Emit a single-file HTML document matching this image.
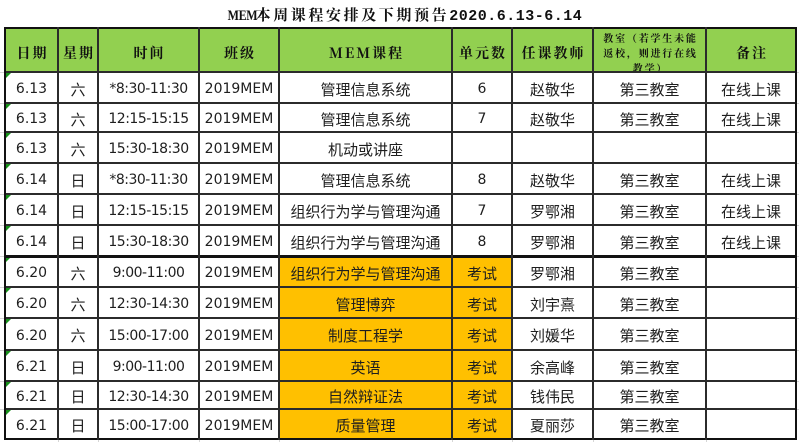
<!DOCTYPE html>
<html><head><meta charset="utf-8">
<style>
*{margin:0;padding:0;box-sizing:border-box}
html,body{width:799px;height:442px;background:#fff;overflow:hidden}
#wrap{position:relative;width:799px;height:442px}
.title{position:absolute;left:0;top:5px;width:810px;text-align:center;font-weight:bold;color:#111;white-space:nowrap;height:20px;line-height:20px}
.title .m{font-family:"Liberation Serif",serif;font-size:15px;display:inline-block;transform:scaleX(0.8);margin-right:-5px;margin-left:-4px;letter-spacing:-0.5px}
.title .z{font-family:"Noto Serif CJK SC","Noto Sans CJK SC",serif;font-size:15px;letter-spacing:2.6px}
.title .d{font-family:"Liberation Mono",monospace;font-size:15px;font-weight:bold;letter-spacing:0.5px}
.bg{position:absolute}
.grid{position:absolute;left:5px;top:28px;width:791px;height:411px;display:grid;
grid-template-columns:53px 40px 101px 80px 173px 60px 81px 113px 90px;
grid-template-rows:44px 31px 29px 31px 31px 31px 31px 31px 31px 32px 31px 28px 30px}
.grid div{display:flex;align-items:center;justify-content:center;padding-top:3px;color:#1e1e1e;white-space:nowrap;overflow:hidden;font-family:"DejaVu Sans","Noto Sans CJK SC",sans-serif;font-size:14px;position:relative}
.grid div.t{letter-spacing:-0.5px}
.grid div.c{font-family:"Noto Sans CJK SC",sans-serif;font-size:15px}
.grid div.h{font-family:"Noto Serif CJK SC","Noto Sans CJK SC",serif;font-weight:bold;font-size:14px;letter-spacing:2px;padding-left:2px;padding-top:6px;color:#111}
.grid div.hs{font-family:"Noto Serif CJK SC","Noto Sans CJK SC",serif;font-weight:bold;font-size:10px;letter-spacing:1.8px;line-height:15px;white-space:normal;display:block;text-align:center;padding:2px 4px 0 6px;color:#111}
.grid div.dt::before{content:"";position:absolute;left:1px;top:1px;border-top:5px solid #17911a;border-right:5px solid transparent}
.hl{position:absolute;height:2px;background:#2b2b2b}
.vl{position:absolute;width:2px;background:#2b2b2b}
.gl{position:absolute;height:1px;background:#d6d6d6}
.gv{position:absolute;width:1px;background:#d6d6d6}
</style></head><body><div id="wrap">
<div class="title"><span class="m">MEM</span><span class="z">本周课程安排及下期预告</span><span class="d">2020.6.13-6.14</span></div>

<div class="gl" style="left:0;width:799px;top:72px"></div>
<div class="gl" style="left:0;width:799px;top:103px"></div>
<div class="gl" style="left:0;width:799px;top:132px"></div>
<div class="gl" style="left:0;width:799px;top:163px"></div>
<div class="gl" style="left:0;width:799px;top:194px"></div>
<div class="gl" style="left:0;width:799px;top:225px"></div>
<div class="gl" style="left:0;width:799px;top:256px"></div>
<div class="gl" style="left:0;width:799px;top:287px"></div>
<div class="gl" style="left:0;width:799px;top:318px"></div>
<div class="gl" style="left:0;width:799px;top:350px"></div>
<div class="gl" style="left:0;width:799px;top:381px"></div>
<div class="gl" style="left:0;width:799px;top:409px"></div>
<div class="gv" style="left:58px;top:439px;height:3px"></div>
<div class="gv" style="left:98px;top:439px;height:3px"></div>
<div class="gv" style="left:199px;top:439px;height:3px"></div>
<div class="gv" style="left:279px;top:439px;height:3px"></div>
<div class="gv" style="left:452px;top:439px;height:3px"></div>
<div class="gv" style="left:512px;top:439px;height:3px"></div>
<div class="gv" style="left:593px;top:439px;height:3px"></div>
<div class="gv" style="left:706px;top:439px;height:3px"></div>

<div class="bg" style="left:5px;top:28px;width:791px;height:44px;background:#92d050"></div>
<div class="bg" style="left:5px;top:72px;width:791px;height:367px;background:#fff"></div>
<div class="bg" style="left:279px;top:256px;width:233px;height:183px;background:#ffc000"></div>

<div class="grid">
<div class="h">日期</div><div class="h">星期</div><div class="h">时间</div><div class="h">班级</div><div class="h">MEM课程</div><div class="h">单元数</div><div class="h">任课教师</div><div class="hs">教室（若学生未能返校，则进行在线教学）</div><div class="h">备注</div>

<div class="dt">6.13</div><div class="c">六</div><div class="t">*8:30-11:30</div><div>2019MEM</div><div class="c">管理信息系统</div><div>6</div><div class="c">赵敬华</div><div class="c">第三教室</div><div class="c">在线上课</div>
<div class="dt">6.13</div><div class="c">六</div><div class="t">12:15-15:15</div><div>2019MEM</div><div class="c">管理信息系统</div><div>7</div><div class="c">赵敬华</div><div class="c">第三教室</div><div class="c">在线上课</div>
<div class="dt">6.13</div><div class="c">六</div><div class="t">15:30-18:30</div><div>2019MEM</div><div class="c">机动或讲座</div><div></div><div></div><div></div><div></div>
<div class="dt">6.14</div><div class="c">日</div><div class="t">*8:30-11:30</div><div>2019MEM</div><div class="c">管理信息系统</div><div>8</div><div class="c">赵敬华</div><div class="c">第三教室</div><div class="c">在线上课</div>
<div class="dt">6.14</div><div class="c">日</div><div class="t">12:15-15:15</div><div>2019MEM</div><div class="c">组织行为学与管理沟通</div><div>7</div><div class="c">罗鄂湘</div><div class="c">第三教室</div><div class="c">在线上课</div>
<div class="dt">6.14</div><div class="c">日</div><div class="t">15:30-18:30</div><div>2019MEM</div><div class="c">组织行为学与管理沟通</div><div>8</div><div class="c">罗鄂湘</div><div class="c">第三教室</div><div class="c">在线上课</div>
<div class="dt">6.20</div><div class="c">六</div><div class="t">9:00-11:00</div><div>2019MEM</div><div class="c">组织行为学与管理沟通</div><div class="c">考试</div><div class="c">罗鄂湘</div><div class="c">第三教室</div><div></div>
<div class="dt">6.20</div><div class="c">六</div><div class="t">12:30-14:30</div><div>2019MEM</div><div class="c">管理博弈</div><div class="c">考试</div><div class="c">刘宇熹</div><div class="c">第三教室</div><div></div>
<div class="dt">6.20</div><div class="c">六</div><div class="t">15:00-17:00</div><div>2019MEM</div><div class="c">制度工程学</div><div class="c">考试</div><div class="c">刘媛华</div><div class="c">第三教室</div><div></div>
<div class="dt">6.21</div><div class="c">日</div><div class="t">9:00-11:00</div><div>2019MEM</div><div class="c">英语</div><div class="c">考试</div><div class="c">余高峰</div><div class="c">第三教室</div><div></div>
<div class="dt">6.21</div><div class="c">日</div><div class="t">12:30-14:30</div><div>2019MEM</div><div class="c">自然辩证法</div><div class="c">考试</div><div class="c">钱伟民</div><div class="c">第三教室</div><div></div>
<div class="dt">6.21</div><div class="c">日</div><div class="t">15:00-17:00</div><div>2019MEM</div><div class="c">质量管理</div><div class="c">考试</div><div class="c">夏丽莎</div><div class="c">第三教室</div><div></div>
</div>

<div class="hl" style="left:4px;width:793px;top:27px;background:#111"></div>
<div class="hl" style="left:4px;width:793px;top:71px"></div>
<div class="hl" style="left:4px;width:793px;top:102px"></div>
<div class="hl" style="left:4px;width:793px;top:131px"></div>
<div class="hl" style="left:4px;width:793px;top:162px"></div>
<div class="hl" style="left:4px;width:793px;top:193px"></div>
<div class="hl" style="left:4px;width:793px;top:224px"></div>
<div class="hl" style="left:4px;width:793px;top:255px;height:3px;background:#111"></div>
<div class="hl" style="left:4px;width:793px;top:286px"></div>
<div class="hl" style="left:4px;width:793px;top:317px"></div>
<div class="hl" style="left:4px;width:793px;top:349px"></div>
<div class="hl" style="left:4px;width:793px;top:380px"></div>
<div class="hl" style="left:4px;width:793px;top:408px"></div>
<div class="hl" style="left:4px;width:793px;top:438px;background:#111"></div>
<div class="vl" style="left:4px;top:27px;height:413px;background:#111"></div>
<div class="vl" style="left:57px;top:27px;height:413px"></div>
<div class="vl" style="left:97px;top:27px;height:413px"></div>
<div class="vl" style="left:198px;top:27px;height:413px"></div>
<div class="vl" style="left:278px;top:27px;height:413px"></div>
<div class="vl" style="left:451px;top:27px;height:413px"></div>
<div class="vl" style="left:511px;top:27px;height:413px"></div>
<div class="vl" style="left:592px;top:27px;height:413px"></div>
<div class="vl" style="left:705px;top:27px;height:413px"></div>
<div class="vl" style="left:795px;top:27px;height:413px;background:#111"></div>
</div></body></html>
